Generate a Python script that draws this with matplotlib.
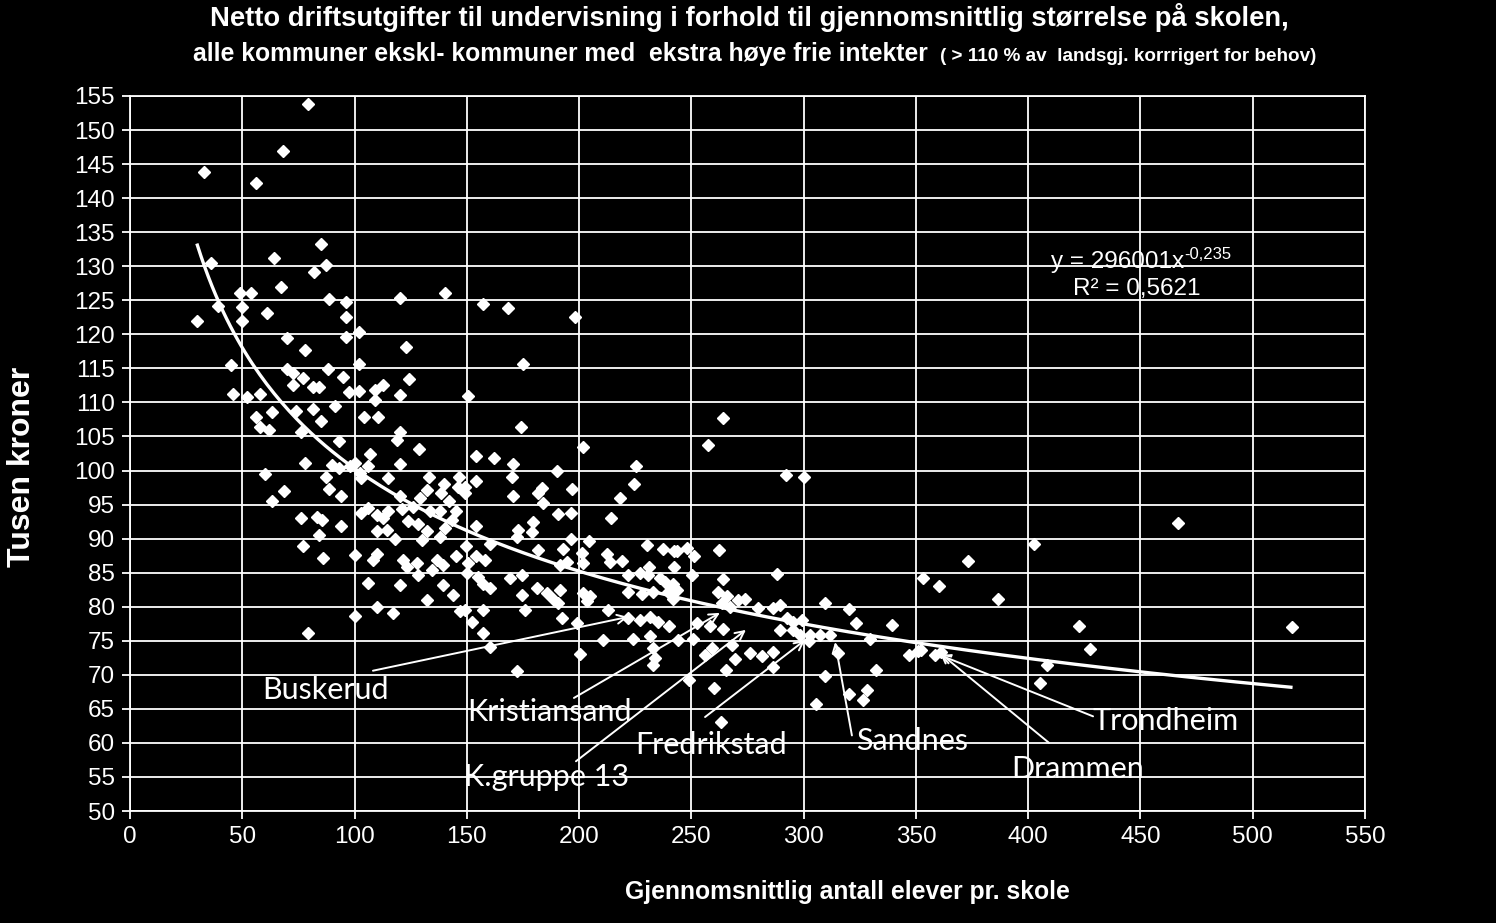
import matplotlib
matplotlib.use("Agg")
import matplotlib.pyplot as plt
import numpy as np

plt.rcParams['font.family'] = ['Liberation Sans', 'DejaVu Sans']

# gjennomsnittlig antall elever pr. skole / netto driftsutgifter (tusen kr)
elever = [
    79.1, 68.0, 32.8, 56.0, 84.9, 36.1, 64.0, 87.3, 81.8, 67.1, 49.0, 53.9, 88.8, 96.2, 39.0, 49.9,
    60.9, 96.2, 29.7, 49.9, 101.8, 69.9, 96.2, 77.9,
    120.2, 140.3, 157.1, 168.3, 198.2, 122.8,
    44.8, 69.8, 72.7, 76.9, 88.0, 101.8, 94.7, 72.7, 81.6, 84.3, 112.8, 97.7, 101.8, 109.1, 109.1, 45.7,
    52.0, 57.9, 63.1, 56.0, 57.9, 61.9, 73.8, 81.6, 85.1, 91.3, 104.2, 110.6, 76.2, 92.9, 106.9, 77.8,
    89.8, 93.2, 98.0, 100.2, 102.4, 106.1, 102.7, 115.0, 60.1, 87.3, 88.8, 93.8, 68.7, 63.1, 102.7, 106.1,
    109.9, 112.8, 115.0, 76.2, 83.1, 85.4, 93.8, 84.2, 109.9, 114.3, 76.9, 85.8, 100.2, 109.9, 108.4,
    174.9, 124.2, 120.2, 150.5, 174.0, 120.2, 118.8, 128.7, 201.9, 154.1, 162.0, 120.2, 170.6, 133.2, 146.7, 154.1,
    170.0, 190.0, 197.0, 132.1, 140.0, 138.5, 146.2, 149.2, 149.2, 170.7, 183.3, 181.8, 184.0, 120.2, 129.1, 142.0,
    126.2, 121.0, 133.6, 138.0, 145.2, 190.7, 196.2, 214.0, 124.0, 128.4, 140.3, 143.3, 154.1, 179.6, 172.9, 178.9,
    132.1, 138.0, 118.0, 129.9, 196.2, 204.6, 149.6, 160.3, 172.2, 192.9, 181.8, 201.1, 212.3, 219.0, 145.2, 154.1,
    158.1, 136.6, 127.6, 121.7, 150.7, 191.5,
    263.9, 257.2, 225.3, 224.3, 218.2, 292.0, 300.0, 230.1, 237.2, 242.3, 243.5, 247.9, 251.2, 262.1, 231.1, 242.3,
    221.9, 227.1, 230.8, 236.0, 238.3, 250.1, 263.9, 288.0, 242.0, 243.5, 221.9, 227.8, 233.0, 242.0, 239.8, 262.0,
    265.7, 270.9, 273.9, 263.5, 267.2, 279.8, 286.5, 289.5, 292.4, 295.4, 299.1, 309.5, 320.2, 323.3, 339.2, 221.9,
    227.1, 231.6, 235.3, 240.2, 252.3, 258.3, 264.2, 289.5, 295.4, 298.4, 302.8, 307.3, 311.8, 329.5, 224.1, 231.6,
    244.2, 250.9, 259.0, 268.0, 233.0, 256.1, 233.8, 233.0, 269.4, 276.1, 281.3, 286.5, 265.4, 286.5, 302.5, 315.4,
    347.1, 351.1, 332.2, 309.5, 249.1, 260.1, 320.2, 328.1, 326.3, 305.5, 263.2,
    466.6, 402.6, 373.0, 353.3, 360.3, 386.4, 422.5, 517.3, 352.2, 361.2, 358.5, 427.5, 408.2, 405.2,
    106.1, 120.2, 128.4, 134.4, 139.5, 144.0, 132.1, 149.9, 155.1, 157.3, 160.3, 169.2, 174.4, 174.4, 181.1, 185.5,
    188.5, 191.5, 190.7, 192.2, 201.9, 204.9, 203.4, 198.9, 213.0, 210.8, 200.4, 109.8, 117.3, 100.2, 79.4, 147.0,
    149.2, 152.2, 157.3, 157.3, 160.3, 175.9, 172.2, 123.2, 139.5, 194.5, 201.9, 213.8,
]
utgifter = [
    153.8, 146.9, 143.8, 142.2, 133.3, 130.5, 131.2, 130.2, 129.2, 127.0, 126.0, 126.0, 125.2, 124.8, 124.2, 124.0,
    123.1, 122.6, 122.0, 122.0, 120.3, 119.4, 119.6, 117.7,
    125.3, 126.1, 124.5, 123.9, 122.5, 118.2,
    115.5, 114.9, 114.3, 113.6, 114.9, 115.6, 113.8, 112.6, 112.2, 112.2, 112.6, 111.5, 111.7, 111.8, 110.4, 111.2,
    110.8, 111.2, 108.6, 107.8, 106.4, 106.0, 108.7, 109.0, 107.2, 109.5, 107.8, 107.8, 105.6, 104.4, 102.4, 101.1,
    100.8, 100.4, 100.6, 101.1, 99.6, 100.6, 98.9, 98.9, 99.5, 99.0, 97.3, 96.3, 97.0, 95.5, 93.8, 94.5,
    93.5, 93.0, 94.0, 93.1, 93.2, 92.8, 91.8, 90.6, 91.1, 91.3, 88.9, 87.1, 87.6, 87.8, 86.9,
    115.7, 113.4, 111.1, 111.0, 106.4, 105.7, 104.5, 103.2, 103.4, 102.1, 101.9, 101.0, 101.0, 99.0, 99.1, 98.5,
    99.0, 99.9, 97.3, 97.1, 98.0, 96.7, 97.6, 96.7, 97.6, 96.3, 97.5, 96.7, 95.3, 96.3, 95.9, 95.5,
    94.7, 94.3, 94.0, 94.0, 94.1, 93.6, 93.8, 93.1, 92.6, 92.1, 91.6, 92.7, 91.9, 92.4, 91.3, 91.0,
    91.1, 90.3, 90.0, 89.8, 89.9, 89.7, 88.9, 89.2, 90.2, 88.5, 88.4, 87.9, 87.8, 86.7, 87.4, 87.5,
    86.9, 86.9, 86.4, 86.9, 86.4, 86.1,
    107.7, 103.8, 100.6, 98.0, 96.0, 99.3, 99.1, 89.1, 88.5, 88.2, 88.2, 88.6, 87.5, 88.3, 85.9, 85.8,
    84.7, 85.0, 84.7, 84.2, 83.7, 84.6, 84.1, 84.8, 83.3, 82.5, 82.1, 81.9, 82.1, 81.1, 82.1, 82.1,
    81.6, 81.0, 81.1, 80.5, 80.0, 79.8, 79.8, 80.3, 78.3, 77.8, 78.0, 80.5, 79.7, 77.6, 77.3, 78.3,
    78.1, 78.5, 77.8, 77.2, 77.6, 77.1, 76.8, 76.6, 76.6, 75.9, 75.9, 75.9, 75.9, 75.3, 75.3, 75.7,
    75.1, 75.3, 74.0, 74.4, 73.9, 72.9, 72.4, 71.4, 72.3, 73.2, 72.7, 73.4, 70.7, 71.2, 74.9, 73.2,
    72.9, 73.5, 70.7, 69.8, 69.2, 68.1, 67.2, 67.8, 66.3, 65.7, 63.0,
    92.3, 89.2, 86.7, 84.2, 83.0, 81.1, 77.2, 77.0, 73.6, 73.4, 72.9, 73.8, 71.5, 68.8,
    83.5, 83.2, 84.7, 85.4, 83.2, 81.7, 81.0, 84.9, 84.4, 83.4, 82.7, 84.2, 84.7, 81.7, 82.7, 82.0,
    81.2, 82.5, 80.5, 78.4, 82.0, 81.5, 80.8, 77.6, 79.5, 75.1, 73.0, 79.9, 79.1, 78.6, 76.2, 79.3,
    79.5, 77.8, 79.5, 76.1, 74.1, 79.5, 70.6, 85.8, 86.1, 86.6, 86.4, 86.6,
]

# potens-trendlinje fra regnearket: y = 296001 x^-0,235 (kroner)
trend_a = 296001
trend_b = -0.235
trend_x0, trend_x1 = 30, 517

# kommuner med pil: (navn, tekstposisjon, pilstart, pilmaal)
piler = [
    ("Buskerud", (87.3, 67.8), (108.2, 70.6), (221.8, 78.5)),
    ("Kristiansand", (187.0, 64.5), (197.7, 66.6), (262.7, 79.1)),
    ("K.gruppe 13", (185.7, 55.0), (198.6, 57.3), (274.3, 76.6)),
    ("Fredrikstad", (258.7, 59.7), (256.1, 63.8), (300.6, 75.1)),
    ("Sandnes", (348.3, 60.3), (321.5, 61.1), (314.0, 74.8)),
    ("Trondheim", (461.4, 63.2), (428.9, 63.9), (360.7, 72.9)),
    ("Drammen", (422.2, 56.2), (409.3, 60.0), (360.7, 73.2)),
]

W, H = 1496, 923
fig = plt.figure(figsize=(W / 100, H / 100), dpi=100, facecolor='black')
ax = fig.add_axes([130 / W, 1 - 811 / H, (1365 - 130) / W, (811 - 96) / H])
ax.set_facecolor('black')

ax.set_xlim(0, 550)
ax.set_ylim(50, 155)
ax.set_xticks(np.arange(0, 551, 50))
ax.set_yticks(np.arange(50, 156, 5))
ax.set_axisbelow(True)
ax.grid(True, color='white', lw=1.3)
for sp in ax.spines.values():
    sp.set_color('white')
    sp.set_linewidth(1.3)
ax.tick_params(axis='both', colors='white', direction='out', length=6, width=1.3,
               labelsize=17.5, pad=5)

ax.plot(elever, np.array(utgifter), linestyle='none', marker='D', ms=6.6,
        color='white', mec='white', zorder=3)

tx = np.linspace(trend_x0, trend_x1, 300)
ax.plot(tx, trend_a * tx ** trend_b / 1000, color='white', lw=2.4, zorder=4)

for navn, tpos, start, maal in piler:
    ax.text(tpos[0], tpos[1], navn, color='white', fontsize=22, family=['Lato', 'DejaVu Sans'],
            ha='center', va='center', zorder=5)
    ax.annotate('', xy=maal, xytext=start,
                arrowprops=dict(arrowstyle='->', color='white', lw=1.4,
                                shrinkA=0, shrinkB=0, mutation_scale=16), zorder=5)

t1 = ax.text(469.5, 130.6, 'y = 296001x', color='white', fontsize=17.5, ha='right', va='center')
ax.annotate('-0,235', xy=(1, 0.85), xycoords=t1, color='white', fontsize=12,
            ha='left', va='center')
ax.text(448.4, 126.7, 'R\u00b2 = 0,5621', color='white', fontsize=17.5, ha='center', va='center')

fig.text(749 / W, 1 - 18 / H,
         'Netto driftsutgifter til undervisning i forhold til gjennomsnittlig st\u00f8rrelse p\u00e5 skolen,',
         color='white', fontsize=19.7, fontweight='bold', ha='center', va='center')
fig.text(928 / W, 1 - 61 / H,
         'alle kommuner ekskl- kommuner med  ekstra h\u00f8ye frie intekter',
         color='white', fontsize=17.8, fontweight='bold', ha='right', va='baseline')
fig.text(940 / W, 1 - 61 / H,
         '( > 110 % av  landsgj. korrrigert for behov)',
         color='white', fontsize=13.6, fontweight='bold', ha='left', va='baseline')

fig.text(22 / W, 1 - 467 / H, 'Tusen kroner', color='white', fontsize=23,
         fontweight='bold', rotation=90, ha='center', va='center')
fig.text(847 / W, 1 - 892 / H, 'Gjennomsnittlig antall elever pr. skole', color='white',
         fontsize=17.8, fontweight='bold', ha='center', va='center')

fig.savefig('out.png', dpi=100, facecolor='black')
